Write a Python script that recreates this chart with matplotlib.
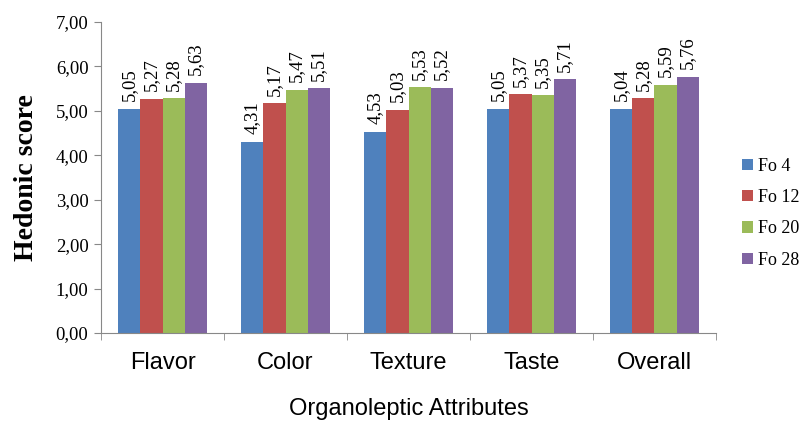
import matplotlib
matplotlib.use("Agg")
import matplotlib.pyplot as plt
import numpy as np

categories = ["Flavor", "Color", "Texture", "Taste", "Overall"]
series_names = ["Fo 4", "Fo 12", "Fo 20", "Fo 28"]
fo4 = [5.05, 4.31, 4.53, 5.05, 5.04]
fo12 = [5.27, 5.17, 5.03, 5.37, 5.28]
fo20 = [5.28, 5.47, 5.53, 5.35, 5.59]
fo28 = [5.63, 5.51, 5.52, 5.71, 5.76]
series = [fo4, fo12, fo20, fo28]
colors = ["#4F81BD", "#C0504D", "#9BBB59", "#8064A2"]

fig = plt.figure(figsize=(8.04, 4.21), dpi=100)
ax = fig.add_axes([101/804, 1-333/421, 615/804, 311/421])

n = len(series)
bw = 0.181
x = np.arange(len(categories))
for i, (vals, name, c) in enumerate(zip(series, series_names, colors)):
    pos = x + (i - (n-1)/2) * bw
    ax.bar(pos, vals, width=bw, color=c, label=name, edgecolor='none')
    for p, v in zip(pos, vals):
        ax.annotate(f"{v:.2f}".replace('.', ','), (p, v), xytext=(0, 5.5),
                    textcoords='offset points', rotation=90,
                    ha='center', va='bottom', fontsize=13.5,
                    family='Liberation Serif')

ax.set_xlim(-0.5, len(categories) - 0.5)
ax.set_ylim(0, 7)
ax.set_yticks(np.arange(0, 8, 1))
ax.set_yticklabels([f"{t:.2f}".replace('.', ',') for t in np.arange(0, 8, 1)],
                   family='Liberation Serif', fontsize=13.5)
ax.set_xticks(x)
ax.set_xticklabels(categories, family='Liberation Sans', fontsize=17)
ax.set_xticks(np.arange(-0.5, len(categories)), minor=True)
ax.tick_params(axis='x', which='major', length=0, pad=14)
ax.tick_params(axis='x', which='minor', length=5, color='#888888')
ax.tick_params(axis='y', length=5, color='#888888', pad=4)
for s in ['top', 'right']:
    ax.spines[s].set_visible(False)
for s in ['left', 'bottom']:
    ax.spines[s].set_color('#888888')

ax.set_ylabel("Hedonic score", family='Liberation Serif', fontsize=20,
              fontweight='bold', labelpad=12)
ax.set_xlabel("Organoleptic Attributes", family='Liberation Sans', fontsize=17,
              labelpad=17)

leg = ax.legend(loc='center left', bbox_to_anchor=(1.016, 0.385), frameon=False,
                prop={'family': 'Liberation Serif', 'size': 13},
                handlelength=0.6, handleheight=0.6, labelspacing=0.8,
                handletextpad=0.3)

fig.savefig("out.png", dpi=100)
